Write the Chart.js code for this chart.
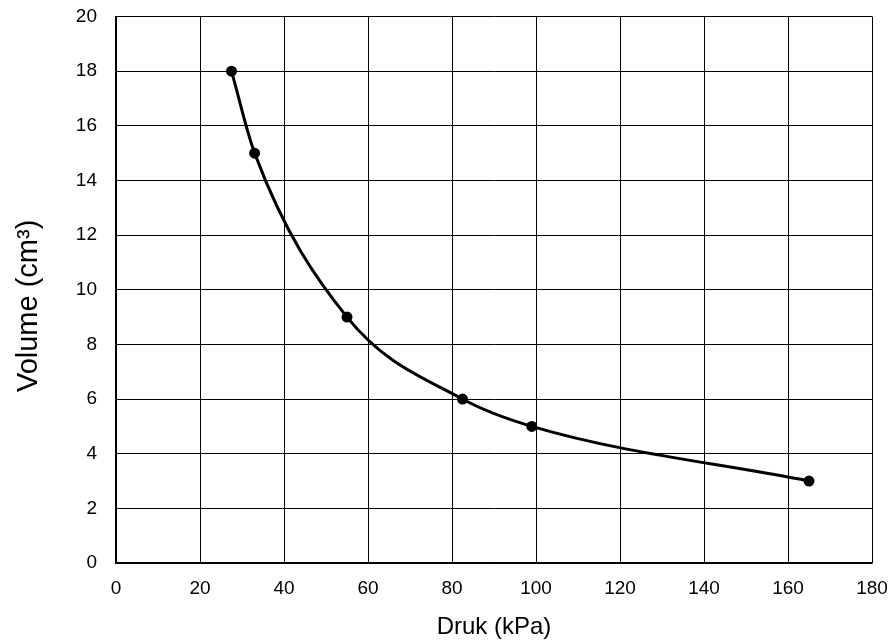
<!DOCTYPE html>
<html>
<head>
<meta charset="utf-8">
<script src="https://cdn.jsdelivr.net/npm/chart.js@4"></script>
<style>
  html, body { margin: 0; padding: 0; background: #fff; }
  #wrap { width: 893px; height: 643px; }
</style>
</head>
<body>
<div id="wrap"><canvas id="myChart"></canvas></div>
<script>
const pressure = [27.5, 33, 55, 82.5, 99, 165];
const volume = [18, 15, 9, 6, 5, 3];
const xTitle = "Druk (kPa)";
const yTitle = "Volume (cm\u00B3)    ";

const points = [];
for (let i = 0; i < pressure.length; ++i) {
  points.push({ x: pressure[i], y: volume[i] });
}

Chart.defaults.font.family = "'Liberation Sans', Arial, sans-serif";
Chart.defaults.color = "#000";

const ctx = document.getElementById("myChart");
new Chart(ctx, {
  type: "scatter",
  data: {
    datasets: [
      {
        data: points,
        showLine: true,
        cubicInterpolationMode: "monotone",
        borderColor: "#000",
        backgroundColor: "#000",
        borderWidth: 3,
        pointRadius: 4,
        pointHoverRadius: 4,
      },
    ],
  },
  options: {
    responsive: true,
    maintainAspectRatio: false,
    animation: false,
    layout: { padding: { top: 16.5, right: 21, left: 0, bottom: 0 } },
    plugins: { legend: { display: false }, tooltip: { enabled: false } },
    scales: {
      x: {
        type: "linear",
        min: 0,
        max: 180,
        ticks: { stepSize: 20, padding: 14, font: { size: 19 } },
        grid: { color: "#000", lineWidth: 1, drawTicks: false },
        border: { color: "#000", width: 1.5 },
        title: { display: true, text: xTitle, font: { size: 24 }, padding: { top: 4, bottom: 1 } },
        afterFit: (scale) => {
          scale.height = 80;
          scale.paddingLeft = 0;
          scale.paddingRight = 0;
        },
      },
      y: {
        min: 0,
        max: 20,
        ticks: { stepSize: 2, padding: 19, font: { size: 19 } },
        grid: { color: "#000", lineWidth: 1, drawTicks: false },
        border: { color: "#000", width: 1.5 },
        title: { display: true, text: yTitle, font: { size: 29 }, padding: { top: 12 } },
        afterFit: (scale) => {
          scale.width = 116;
          scale.paddingTop = 0;
          scale.paddingBottom = 0;
        },
      },
    },
  },
});
</script>
</body>
</html>
